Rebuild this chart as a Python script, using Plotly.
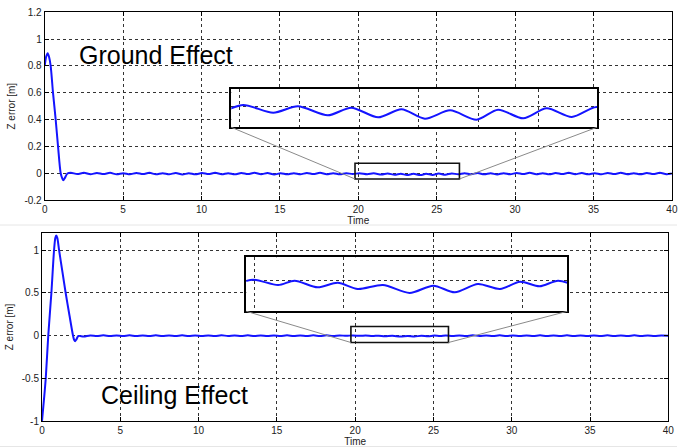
import plotly.graph_objects as go

W, H = 685, 448

# ---------------- data ----------------
top_t = [0.00, 0.10, 0.19, 0.28, 0.38, 0.53, 0.70, 0.85, 1.02, 1.12, 1.19, 1.28, 1.45, 1.66,
         2.08, 2.50, 2.92, 3.33, 3.75, 4.17, 4.59, 5.01, 5.43, 5.85, 6.27, 6.68, 7.10, 7.52,
         7.94, 8.36, 8.78, 9.19, 9.61, 10.03, 10.45, 10.87, 11.29, 11.70, 12.12, 12.54, 12.96,
         13.38, 13.80, 14.21, 14.63, 15.05, 15.47, 15.89, 16.31, 16.72, 17.14, 17.56, 17.98,
         18.40, 18.82, 19.23, 19.65,
         20.07, 20.57, 20.98, 21.48, 21.87, 22.32, 22.71, 23.10, 23.52, 23.96, 24.32, 24.74,
         25.13, 25.55, 25.96,
         26.37, 26.78, 27.20, 27.61, 28.03, 28.44, 28.86, 29.27, 29.69, 30.10, 30.52, 30.93,
         31.35, 31.76, 32.18, 32.59, 33.01, 33.42, 33.84, 34.25, 34.67, 35.08, 35.50, 35.91,
         36.33, 36.74, 37.16, 37.57, 37.99, 38.40, 38.82, 39.23, 39.65, 40.00]
top_v = [0.800, 0.872, 0.895, 0.866, 0.800, 0.600, 0.400, 0.200, 0.000, -0.038, -0.052, -0.036, -0.002, 0.004,
         -0.006, 0.003, -0.007, 0.002, -0.006, 0.003, -0.008, 0.001, -0.007, 0.002, -0.006, 0.003, -0.008, 0.001,
         -0.007, 0.002, -0.009, 0.000, -0.008, 0.002, -0.006, 0.003, -0.007, 0.001, -0.008, 0.002, -0.006,
         0.003, -0.007, 0.002, -0.009, 0.000, -0.008, 0.001, -0.007, 0.002, -0.006, 0.003, -0.007,
         0.001, -0.008, 0.001, -0.006,
         0.0010, -0.0067, -0.0003, -0.0093, -0.0017, -0.0113, -0.0033, -0.0127, -0.0043, -0.0137, -0.0037, -0.0123,
         -0.0023, -0.0110, -0.0010,
         -0.008, 0.001, -0.007, 0.002, -0.008, 0.000, -0.009, 0.001, -0.007, 0.002, -0.006, 0.003,
         -0.007, 0.001, -0.008, 0.002, -0.006, 0.003, -0.007, 0.002, -0.008, 0.001, -0.007, 0.002,
         -0.006, 0.003, -0.007, 0.001, -0.008, 0.002, -0.006, 0.003, -0.007, -0.002]

bot_t = [0.00, 0.12, 0.24, 0.40, 0.60, 0.77, 0.85, 0.91, 0.98, 1.09, 1.30, 1.51, 1.75, 1.98,
         2.05, 2.12, 2.20, 2.32, 2.66,
         3.08, 3.50, 3.92, 4.34, 4.76, 5.18, 5.59, 6.01, 6.43, 6.85, 7.27, 7.69, 8.11, 8.53,
         8.95, 9.37, 9.78, 10.20, 10.62, 11.04, 11.46, 11.88, 12.30, 12.72, 13.14, 13.56, 13.97,
         14.39, 14.81, 15.23, 15.65, 16.07, 16.49, 16.91, 17.33, 17.75, 18.17, 18.59, 19.01, 19.43,
         19.85, 20.34, 20.66, 21.11, 21.50, 21.89, 22.38, 22.90, 23.36, 23.78, 24.23, 24.66,
         25.05, 25.43, 25.79,
         26.22, 26.65, 27.08, 27.51, 27.94, 28.37, 28.80, 29.23, 29.66, 30.09, 30.52, 30.95,
         31.38, 31.81, 32.24, 32.67, 33.10, 33.53, 33.96, 34.39, 34.82, 35.25, 35.68, 36.11,
         36.54, 36.97, 37.40, 37.83, 38.26, 38.69, 39.12, 39.55, 40.00]
bot_v = [-1.000, -0.760, -0.500, 0.000, 0.500, 1.000, 1.140, 1.170, 1.140, 1.000, 0.750, 0.500, 0.240, 0.000,
         -0.050, -0.066, -0.045, -0.006, -0.013,
         0.001, -0.005, 0.002, -0.006, 0.001, -0.005, 0.002, -0.007, 0.000, -0.005, 0.002, -0.006,
         0.001, -0.005, 0.002, -0.006, 0.001, -0.005, 0.000, -0.006, 0.002, -0.005, 0.001,
         -0.006, 0.002, -0.005, 0.001, -0.007, 0.000, -0.005, 0.002, -0.006, 0.001, -0.005, 0.002,
         -0.006, 0.002, -0.006, 0.001, -0.004,
         0.0010, -0.0043, 0.0000, -0.0066, -0.0020, -0.0083, -0.0043, -0.0123, -0.0050, -0.0116, -0.0033, -0.0083,
         -0.0010, -0.0056, 0.0000,
         -0.005, 0.001, -0.006, 0.002, -0.005, 0.001, -0.006, 0.002, -0.005, 0.000, -0.006, 0.001,
         -0.005, 0.002, -0.006, 0.001, -0.005, 0.002, -0.006, 0.001, -0.005, 0.000, -0.006, 0.002,
         -0.005, 0.001, -0.006, 0.002, -0.005, 0.001, -0.006, 0.001, -0.004]

x_tickvals = [0, 5, 10, 15, 20, 25, 30, 35, 40]
x_ticktext = ["0", "5", "10", "15", "20", "25", "30", "35", "40"]
top_tickvals = [-0.2, 0, 0.2, 0.4, 0.6, 0.8, 1.0, 1.2]
top_ticktext = ["-0.2", "0", "0.2", "0.4", "0.6", "0.8", "1", "1.2"]
bot_tickvals = [-1, -0.5, 0, 0.5, 1]
bot_ticktext = ["-1", "-0.5", "0", "0.5", "1"]
inset1_xgrid = [20, 21, 22, 23, 24, 25]
inset2_xgrid = [19.88, 21.62, 23.36, 25.09]

x_label = "Time"
y_label = "Z error [m]"
top_title = "Ground Effect"
bot_title = "Ceiling Effect"

# ---------------- layout geometry ----------------
top_xdom = [44.7 / W, 671.9 / W]
top_ydom = [1 - 200.1 / H, 1 - 12.3 / H]
bot_xdom = [42.0 / W, 668.3 / W]
bot_ydom = [1 - 421.0 / H, 1 - 232.9 / H]
top_yr = [-0.2, 1.2]
bot_yr = [-1.0, 1.2]
xr = [0, 40]

in1_xdom = [231.3 / W, 597.0 / W]
in1_ydom = [1 - 127.3 / H, 1 - 89.0 / H]
in1_xr = [19.87, 25.97]
in1_yr = [-0.0213, 0.017]
in2_xdom = [246.3 / W, 567.3 / W]
in2_ydom = [1 - 311.3 / H, 1 - 257.3 / H]
in2_xr = [19.72, 25.97]
in2_yr = [-0.0306, 0.0234]

box1 = dict(x0=19.79, x1=26.45, y0=-0.0425, y1=0.0746)
box2 = dict(x0=19.73, x1=25.96, y0=-0.082, y1=0.105)

LINE = "#1414ff"
FONT = "Liberation Sans, Arial, sans-serif"

fig = go.Figure()
for t, v, xa, ya in [(top_t, top_v, "x", "y"), (bot_t, bot_v, "x2", "y2"),
                     (top_t, top_v, "x3", "y3"), (bot_t, bot_v, "x4", "y4")]:
    fig.add_trace(go.Scatter(x=t, y=v, xaxis=xa, yaxis=ya, mode="lines",
                             line=dict(color=LINE, width=2, shape="spline", smoothing=0.8),
                             showlegend=False, hoverinfo="skip"))

tickfont = dict(family=FONT, size=10, color="#222")
common = dict(showline=True, linecolor="black", linewidth=1, mirror="ticks",
              ticks="inside", ticklen=4, tickcolor="black", zeroline=False,
              showgrid=True, gridcolor="#333", griddash="dot", gridwidth=1,
              tickfont=tickfont, automargin=False)

def main_x(dom, anchor):
    return dict(domain=dom, range=xr, anchor=anchor, tickvals=x_tickvals, ticktext=x_ticktext,
                title=dict(text=x_label, font=dict(family=FONT, size=10, color="#222"), standoff=2),
                **common)

def main_y(dom, rng, tv, tt, anchor):
    return dict(domain=dom, range=rng, anchor=anchor, tickvals=tv, ticktext=tt,
                title=dict(text=y_label, font=dict(family=FONT, size=10, color="#222"), standoff=6),
                **common)

inset_common = dict(showline=True, linecolor="black", linewidth=2, mirror=True,
                    ticks="", showticklabels=False, zeroline=False, automargin=False,
                    showgrid=True, gridcolor="#333", griddash="dot", gridwidth=1)

fig.update_layout(
    template="none",
    width=W, height=H, margin=dict(l=0, r=0, t=0, b=0, pad=0, autoexpand=False),
    paper_bgcolor="white", plot_bgcolor="white",
    xaxis=main_x(top_xdom, "y"),
    yaxis=main_y(top_ydom, top_yr, top_tickvals, top_ticktext, "x"),
    xaxis2=main_x(bot_xdom, "y2"),
    yaxis2=main_y(bot_ydom, bot_yr, bot_tickvals, bot_ticktext, "x2"),
    xaxis3=dict(domain=in1_xdom, range=in1_xr, anchor="y3", tickvals=inset1_xgrid, **inset_common),
    yaxis3=dict(domain=in1_ydom, range=in1_yr, anchor="x3", tickvals=[0], **inset_common),
    xaxis4=dict(domain=in2_xdom, range=in2_xr, anchor="y4", tickvals=inset2_xgrid, **inset_common),
    yaxis4=dict(domain=in2_ydom, range=in2_yr, anchor="x4", tickvals=[0], **inset_common),
    showlegend=False,
)

def to_paper(xv, yv, xdom, ydom, xrng, yrng):
    px = xdom[0] + (xv - xrng[0]) / (xrng[1] - xrng[0]) * (xdom[1] - xdom[0])
    py = ydom[0] + (yv - yrng[0]) / (yrng[1] - yrng[0]) * (ydom[1] - ydom[0])
    return px, py

shapes = []
shapes.append(dict(type="line", xref="paper", yref="paper", x0=0, x1=677 / W,
                   y0=1 - 225 / H, y1=1 - 225 / H, line=dict(color="#e6e6e6", width=1)))
shapes.append(dict(type="line", xref="paper", yref="paper", x0=0, x1=677 / W,
                   y0=1 - 446.5 / H, y1=1 - 446.5 / H, line=dict(color="#e6e6e6", width=1)))

for box, xa, ya, xdom, ydom, yrng, ixd, iyd in [
        (box1, "x", "y", top_xdom, top_ydom, top_yr, in1_xdom, in1_ydom),
        (box2, "x2", "y2", bot_xdom, bot_ydom, bot_yr, in2_xdom, in2_ydom)]:
    shapes.append(dict(type="rect", xref=xa, yref=ya, x0=box["x0"], x1=box["x1"],
                       y0=box["y0"], y1=box["y1"], line=dict(color="#111", width=1.6)))
    blx, bly = to_paper(box["x0"], box["y0"], xdom, ydom, xr, yrng)
    brx, bry = to_paper(box["x1"], box["y0"], xdom, ydom, xr, yrng)
    shapes.append(dict(type="line", xref="paper", yref="paper", x0=ixd[0], y0=iyd[0],
                       x1=blx, y1=bly, line=dict(color="#8a8a8a", width=1)))
    shapes.append(dict(type="line", xref="paper", yref="paper", x0=ixd[1], y0=iyd[0],
                       x1=brx, y1=bry, line=dict(color="#8a8a8a", width=1)))
fig.update_layout(shapes=shapes)

fig.add_annotation(text=top_title, xref="paper", yref="paper", x=77 / W, y=1 - 55 / H,
                   xanchor="left", yanchor="middle", showarrow=False,
                   font=dict(family=FONT, size=25, color="black"))
fig.add_annotation(text=bot_title, xref="paper", yref="paper", x=99 / W, y=1 - 395 / H,
                   xanchor="left", yanchor="middle", showarrow=False,
                   font=dict(family=FONT, size=25, color="black"))

fig.write_html("out.html", post_script="document.body.style.margin='0';",
               config={"displayModeBar": False, "staticPlot": True})
